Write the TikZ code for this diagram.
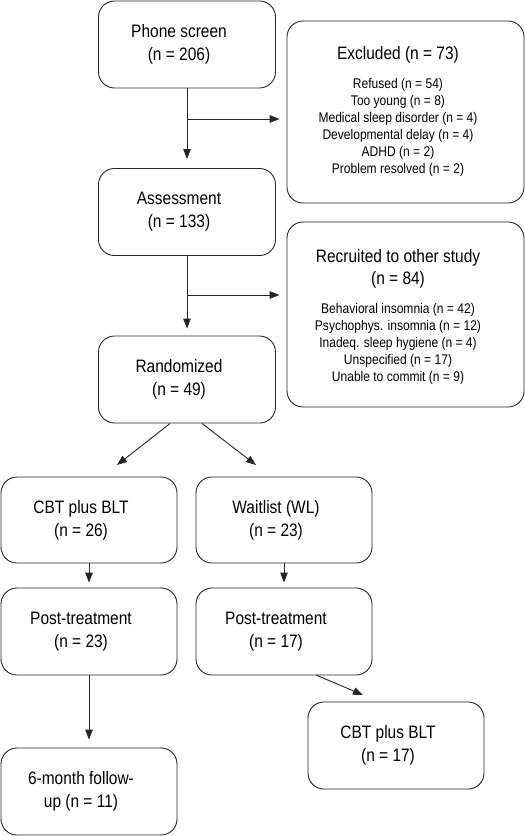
\documentclass[tikz,border=0pt]{standalone}
\usepackage{fontspec}
\setmainfont[FakeStretch=0.86]{Liberation Sans}
\usetikzlibrary{arrows.meta}
\begin{document}
\begin{tikzpicture}[x=1pt,y=-1pt,
  box/.style={draw=black!85, line width=0.9pt, rounded corners=16pt, inner sep=0pt},
  mainbox/.style={box, minimum width=177pt, minimum height=87pt},
  lbl/.style={align=center, font=\fontsize{18}{23}\selectfont, inner sep=0pt},
  ttl/.style={align=center, font=\fontsize{18}{22.5}\selectfont, inner sep=0pt},
  small/.style={align=center, font=\fontsize{14}{17}\selectfont, inner sep=0pt},
  arr/.style={draw=black!85, line width=0.9pt, -{Triangle[length=10pt,width=7.5pt]}}]
\useasboundingbox (0,0) rectangle (525,836);

% left column boxes
\node[mainbox] (phone) at (187,44.5) {};
\node[lbl] (phoneT) at (179,44.5) {Phone screen\\(n = 206)};
\node[mainbox] (assess) at (187,212) {};
\node[lbl] (assessT) at (179,212) {Assessment\\(n = 133)};
\node[mainbox] (rand) at (187,379.5) {};
\node[lbl] (randT) at (179,379.5) {Randomized\\(n = 49)};

% right side boxes
\node[box, minimum width=237pt, minimum height=182pt] (excl) at (405.5,112) {};
\node[ttl, anchor=mid] (exclT) at (398,57) {Excluded (n = 73)};
\node[small] (exclI) at (398,127.5) {Refused (n = 54)\\Too young (n = 8)\\Medical sleep disorder (n = 4)\\Developmental delay (n = 4)\\ADHD (n = 2)\\Problem resolved (n = 2)};

\node[box, minimum width=237pt, minimum height=185pt] (recr) at (405.5,314.5) {};
\node[ttl] (recrT) at (398,269) {Recruited to other study\\(n = 84)};
\node[small] (recrI) at (398,344) {Behavioral insomnia (n = 42)\\Psychophys. insomnia (n = 12)\\Inadeq. sleep hygiene (n = 4)\\Unspecified (n = 17)\\Unable to commit (n = 9)};

% lower boxes
\node[mainbox, minimum width=176pt, minimum height=86pt] (cbt) at (89,520) {};
\node[lbl] (cbtT) at (81,520) {CBT plus BLT\\(n = 26)};
\node[mainbox, minimum width=176pt, minimum height=86pt] (wl) at (284,520) {};
\node[lbl] (wlT) at (276,520) {Waitlist (WL)\\(n = 23)};
\node[mainbox, minimum width=176pt] (postL) at (89,631.5) {};
\node[lbl] (postLT) at (81,631.5) {Post-treatment\\(n = 23)};
\node[mainbox, minimum width=176pt] (postR) at (284,631.5) {};
\node[lbl] (postRT) at (276,631.5) {Post-treatment\\(n = 17)};
\node[mainbox, minimum width=176pt] (cbtb) at (396,745.5) {};
\node[lbl] (cbtbT) at (388,745.5) {CBT plus BLT\\(n = 17)};
\node[mainbox, minimum width=176pt] (follow) at (89,791.5) {};
\node[lbl] (followT) at (81,791.5) {6-month follow-\\up (n = 11)};

% connectors
\coordinate (b1) at (188,119);
\coordinate (b2) at (188,295);
\draw[arr, shorten >=9pt] (phone) -- (assess);
\draw[arr, shorten >=7pt] (assess) -- (rand);
\draw[arr, shorten >=7pt] (b1) -- (b1 -| excl.west);
\draw[arr, shorten >=7pt] (b2) -- (b2 -| recr.west);

\coordinate (r1) at (170,423.5);
\coordinate (r1e) at (117,465);
\coordinate (r2) at (202,423.5);
\coordinate (r2e) at (256,465);
\draw[arr] (r1) -- (r1e);
\draw[arr] (r2) -- (r2e);

\draw[arr, shorten >=5pt] (cbt) -- (postL);
\draw[arr, shorten >=5pt] (wl) -- (postR);
\draw[arr, shorten >=8pt] (postL) -- (follow);

\coordinate (p1) at (316,675);
\coordinate (p1e) at (363,695);
\draw[arr] (p1) -- (p1e);
\end{tikzpicture}
\end{document}
